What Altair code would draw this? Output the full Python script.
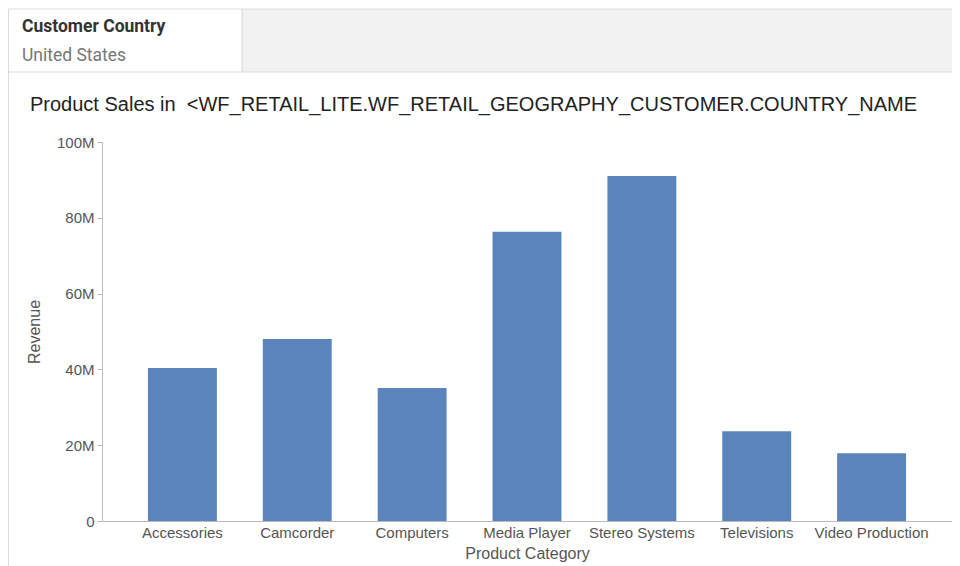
import altair as alt
import pandas as pd

categories = ["Accessories", "Camcorder", "Computers", "Media Player",
              "Stereo Systems", "Televisions", "Video Production"]
revenue_m = [40.4, 48.0, 35.1, 76.3, 91.0, 23.7, 17.9]
y_ticks = [0, 20e6, 40e6, 60e6, 80e6, 100e6]
header_labels = ["Customer Country", "United States"]
title_text = "Product Sales in\u00a0 <WF_RETAIL_LITE.WF_RETAIL_GEOGRAPHY_CUSTOMER.COUNTRY_NAME"

df = pd.DataFrame({"cat": categories, "rev": [v * 1e6 for v in revenue_m]})
one = pd.DataFrame({"h": [header_labels[0]]})

W, H = 850, 379
FONT = "Liberation Sans"

bars = alt.Chart(df).mark_bar(color="#5b84bc").encode(
    x=alt.X("cat:N", sort=categories,
            scale=alt.Scale(paddingInner=0.4, paddingOuter=0.4),
            axis=alt.Axis(title="Product Category", labelAngle=0, ticks=False,
                          labelPadding=4, titlePadding=5)),
    y=alt.Y("rev:Q", scale=alt.Scale(domain=[0, 100e6]),
            axis=alt.Axis(title="Revenue", values=y_ticks, format="~s",
                          labelExpr="datum.value == 0 ? '0' : datum.label",
                          grid=False, tickSize=5, labelPadding=3,
                          titlePadding=14)),
)

header_gray = alt.Chart(one).mark_rect(fill="#f2f2f2", stroke="#dcdcdc", strokeWidth=1).encode(
    x=alt.value(140), x2=alt.value(860), y=alt.value(-133), y2=alt.value(-70))
header_box = alt.Chart(one).mark_rect(fill="#ffffff", stroke="#dcdcdc", strokeWidth=1).encode(
    x=alt.value(-93.5), x2=alt.value(140), y=alt.value(-133), y2=alt.value(-70))
left_line = alt.Chart(one).mark_rule(color="#dcdcdc", strokeWidth=1).encode(
    x=alt.value(-93.5), y=alt.value(-70), y2=alt.value(440))
h1 = alt.Chart(one).mark_text(text=header_labels[0], font="Roboto", fontWeight="bold",
                              fontSize=17.5, color="#333333", align="left",
                              baseline="alphabetic").encode(
    x=alt.value(-80), y=alt.value(-110))
h2 = alt.Chart(one).mark_text(text=header_labels[1], font="Roboto",
                              fontSize=17.5, color="#777777", align="left",
                              baseline="alphabetic").encode(
    x=alt.value(-80), y=alt.value(-81))
title = alt.Chart(one).mark_text(text=title_text, font=FONT, fontSize=20,
                                 color="#222222", align="left",
                                 baseline="alphabetic").encode(
    x=alt.value(-72), y=alt.value(-31))

chart = alt.layer(header_gray, header_box, left_line, h1, h2, title, bars).properties(
    width=W, height=H,
    autosize=alt.AutoSizeParams(type="none"),
    padding={"left": 94, "top": 134, "right": 0, "bottom": 45},
).configure_view(stroke=None).configure_axis(
    labelFont=FONT, titleFont=FONT, labelFontSize=15, titleFontSize=16,
    labelColor="#555555", titleColor="#555555", titleFontWeight="normal",
    domainColor="#bbbbbb", tickColor="#bbbbbb",
)

chart.save("out.html", embed_options={"renderer": "svg", "actions": False})
